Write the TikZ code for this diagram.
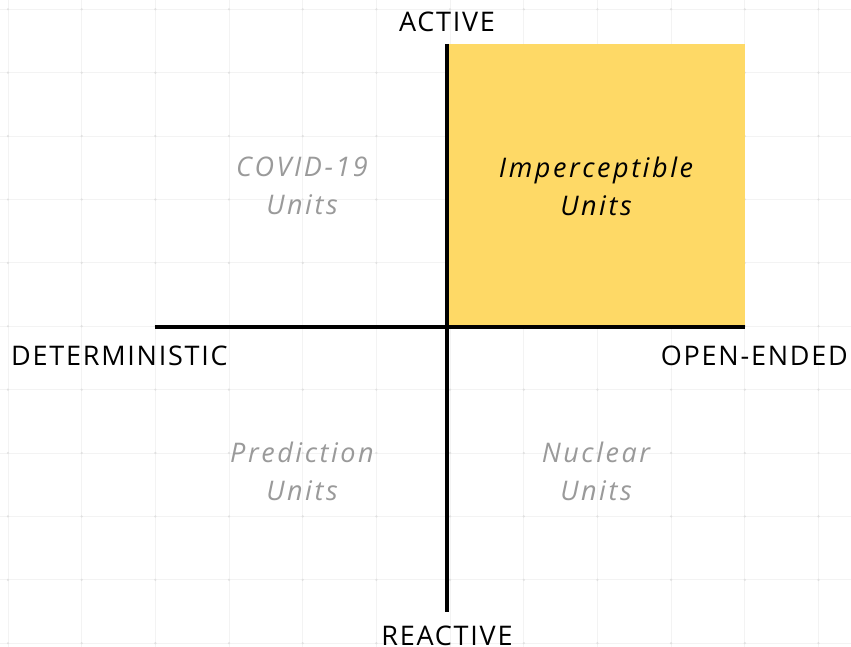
\documentclass[tikz,border=0pt]{standalone}
\usepackage{fontspec}
\setmainfont{Open Sans}[LetterSpace=6.5,ItalicFeatures={LetterSpace=9.5}]
\usetikzlibrary{positioning}
\definecolor{gridgray}{HTML}{F3F3F3}
\definecolor{dotgray}{HTML}{E0E0E0}
\definecolor{unitgray}{HTML}{9A9A9A}
\definecolor{pickyellow}{HTML}{FED966}

\begin{document}
\begin{tikzpicture}[x=1pt,y=-1pt,
  axislabel/.style={font=\fontsize{27}{30}\selectfont,text=black,inner sep=0pt},
  unitlabel/.style={font=\fontsize{27}{38}\selectfont\itshape,text=unitgray,align=center,inner sep=0pt},
  axisline/.style={line width=3.6pt}]
  \useasboundingbox (0,0) rectangle (851,647);
  \fill[white] (0,0) rectangle (851,647);
  % background grid
  \foreach \i in {0,...,11}
    \draw[gridgray,line width=.8pt] (8+73.68*\i,0) -- (8+73.68*\i,647);
  \foreach \j in {0,...,10}
    \draw[gridgray,line width=.8pt] (0,9.3+63.39*\j) -- (851,9.3+63.39*\j);
  \foreach \i in {0,...,11}
    \foreach \j in {0,...,10}
      \fill[dotgray] (8+73.68*\i,9.3+63.39*\j) circle (1.2pt);
  % chosen quadrant
  \fill[pickyellow] (447,44) rectangle (745,327);
  % axes
  \coordinate (top) at (447,44);
  \coordinate (bottom) at (447,612);
  \coordinate (left) at (155,327);
  \coordinate (right) at (745,327);
  \draw[axisline] (top) -- (bottom);
  \draw[axisline] (left) -- (right);
  \node[axislabel] (active) at (447,22) {ACTIVE};
  \node[axislabel] (reactive) at (447,636) {REACTIVE};
  \node[axislabel,anchor=west] (determ) at (11,356) {DETERMINISTIC};
  \node[axislabel,anchor=east] (open) at (848,356) {OPEN-ENDED};
  % quadrants
  \node[unitlabel] (covid) at (302,186) {COVID-19\\Units};
  \node[unitlabel,text=black] (imperc) at (596,186) {Imperceptible\\Units};
  \node[unitlabel] (predict) at (302,471) {Prediction\\Units};
  \node[unitlabel] (nuclear) at (596,471) {Nuclear\\Units};
\end{tikzpicture}
\end{document}
